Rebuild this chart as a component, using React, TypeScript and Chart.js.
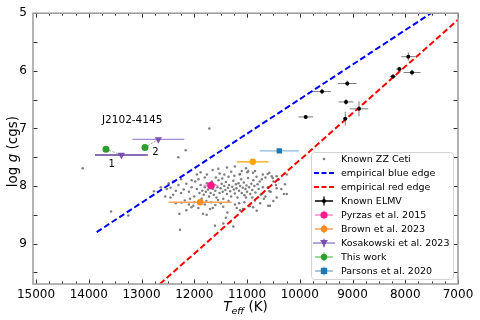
import React, { useEffect, useRef } from "react";
import { Chart, registerables } from "chart.js";

Chart.register(...registerables);

// ---------------- data ----------------
// Known ZZ Ceti stars: [Teff (K), log g]
const zzCeti: [number, number][] = [
  [14115, 7.69], [13578, 8.44], [13250, 8.51], [11715, 7.0], [12302, 7.5], [12162, 7.38],
  [12270, 8.76], [12763, 8.09], [12636, 8.02], [12484, 7.95],
  [11950, 8.05], [11900, 8.12], [11880, 7.98], [11850, 8.08], [11820, 8.15], [11800, 8.02],
  [11780, 8.1], [11760, 7.95], [11740, 8.06], [11720, 8.18], [11700, 8.0], [11690, 8.12],
  [11670, 7.92], [11650, 8.05], [11630, 8.15], [11610, 7.98], [11600, 8.08], [11580, 8.2],
  [11560, 8.02], [11540, 7.9], [11520, 8.12], [11500, 8.04], [11480, 7.96], [11460, 8.1],
  [11450, 8.22], [11430, 8.0], [11410, 8.07], [11400, 7.93], [11380, 8.14], [11360, 8.03],
  [11340, 7.98], [11320, 8.09], [11300, 8.18], [11280, 8.01], [11260, 7.91], [11250, 8.06],
  [11230, 8.13], [11210, 7.97], [11200, 8.04], [11180, 8.2], [11160, 7.95], [11150, 8.08],
  [11130, 8.0], [11110, 7.88], [11100, 8.12], [11080, 8.03], [11060, 7.94], [11050, 8.16],
  [11030, 8.05], [11010, 7.99], [11000, 8.1], [10980, 7.86], [10960, 8.02], [10940, 8.14],
  [10920, 7.96], [10900, 8.07], [10880, 7.9], [10860, 8.0], [10840, 8.11], [10820, 7.84],
  [10800, 7.97], [10780, 8.05], [10760, 7.92], [10740, 8.15], [10720, 7.88], [10700, 8.02],
  [12050, 8.02], [12100, 8.1], [12150, 7.96], [12000, 8.18], [12080, 8.22], [12200, 8.06],
  [12250, 8.12], [12300, 7.98], [12350, 8.08], [12400, 8.15], [12450, 8.03], [12180, 8.25],
  [11980, 7.92], [11920, 7.88], [11860, 8.22], [11770, 8.26], [11680, 8.28], [11590, 7.85],
  [11470, 7.87], [11350, 7.84], [11240, 7.82], [11140, 7.8],
  [11650, 7.72], [11544, 7.7], [11520, 7.78], [11430, 7.8], [11300, 7.75], [11133, 7.79],
  [11100, 7.74], [11019, 7.69], [10975, 7.74], [10886, 7.77], [10994, 7.76], [10848, 7.74],
  [10608, 7.79], [10577, 7.77], [10532, 7.83], [10247, 7.8], [10650, 7.85], [10500, 7.92],
  [10450, 7.98], [10400, 7.88], [10350, 8.05], [10280, 7.97], [10437, 8.04], [10300, 8.14],
  [10600, 8.02], [10550, 8.1], [10650, 8.18], [10700, 7.8], [11800, 7.85], [11950, 7.8],
  [11760, 7.8], [11880, 7.76], [11380, 7.68], [11230, 7.66], [12050, 7.9], [12250, 7.88],
  [12400, 7.92], [12520, 8.05], [12450, 8.2], [12550, 8.18],
  [10513, 7.86], [10437, 7.83], [10406, 7.89], [10608, 8.03], [10577, 8.09], [10437, 8.2],
  [10564, 8.34], [10247, 8.14],
  [12283, 8.48], [12241, 8.29], [12053, 8.37], [12018, 8.34], [11922, 8.38], [11766, 8.5],
  [11701, 8.4], [11373, 8.46], [11133, 8.42], [11195, 8.38], [11227, 8.32], [11449, 8.65],
  [11322, 8.63], [11260, 8.7], [11607, 8.69], [11834, 8.48], [12350, 8.3], [12150, 8.42],
  [11600, 8.33], [11500, 8.3], [11450, 8.36], [11050, 8.28], [10950, 8.35], [10850, 8.25],
  [10750, 8.3], [10596, 8.34], [10816, 8.43], [10886, 8.37], [11076, 8.4], [11019, 8.2],
  [10680, 8.22], [10500, 8.26], [11900, 8.3], [11650, 8.38], [11550, 8.24], [11350, 8.26],
  [11150, 8.3], [10900, 8.2], [11800, 8.32], [12000, 8.28], [12100, 8.32], [11400, 8.55],
];

const blueEdgeTeff = [13850, 7510];
const blueEdgeLogg = [8.8, 5.0];
const redEdgeTeff = [12650, 7000];
const redEdgeLogg = [9.7, 5.115];

const elmvTeff = [7942, 8113, 8232, 7872, 9099, 9578, 9123, 8877, 9137, 9887];
const elmvLogg = [5.755, 5.97, 6.1, 6.03, 6.22, 6.36, 6.54, 6.66, 6.83, 6.8];
const elmvTeffErr = [130, 60, 60, 160, 175, 170, 140, 175, 35, 140];
const elmvLoggErr = [0.07, 0.04, 0.04, 0.05, 0.05, 0.05, 0.05, 0.13, 0.12, 0.03];

const pyrzasTeff = [11683];
const pyrzasLogg = [7.99];
const pyrzasTeffErr = [140];
const pyrzasLoggErr = [0.05];

const brownTeff = [10892, 11887];
const brownLogg = [7.58, 8.28];
const brownTeffErr = [300, 597];
const brownLoggErr = [0.03, 0.03];

const kosTeff = [13381, 12681];
const kosLogg = [7.46, 7.19];
const kosTeffErr = [500, 493];
const kosLoggErr = [0.03, 0.03];

const thisTeff = [13673, 12934];
const thisLogg = [7.36, 7.33];

const parsonsTeff = [10388];
const parsonsLogg = [7.39];
const parsonsTeffErr = [370];
const parsonsLoggErr = [0.03];

const legendLabels = [
  "Known ZZ Ceti",
  "empirical blue edge",
  "empirical red edge",
  "Known ELMV",
  "Pyrzas et al. 2015",
  "Brown et al. 2023",
  "Kosakowski et al. 2023",
  "This work",
  "Parsons et al. 2020",
];

const xTickValues = [15000, 14000, 13000, 12000, 11000, 10000, 9000, 8000, 7000];
const yTickValues = [5, 6, 7, 8, 9];

// annotation text (data coordinates)
const annotations = [
  { text: "J2102-4145", teff: 13749, logg: 6.86, align: "left" },
  { text: "1", teff: 13565, logg: 7.62, align: "center" },
  { text: "2", teff: 12738, logg: 7.42, align: "center" },
];

// ---------------- styles ----------------
const FONT = "'DejaVu Sans', 'Liberation Sans', sans-serif";
const C_PINK = "#ff1a8c";
const C_PINK_BAR = "#ff8cc6";
const C_ORANGE = "#ff8c1a";
const C_ORANGE_BAR = "#ffa45c";
const C_GOLD = "#ffa500";
const C_PURPLE = "#7a4fb0";
const C_PURPLE_DARK = "#6a3d9a";
const C_PURPLE_LIGHT = "#a58bd6";
const C_GREEN = "#2ca02c";
const C_BLUE = "#1f77b4";
const C_BLUE_BAR = "#8ab8dc";

const pts = (xs: number[], ys: number[]) => xs.map((x, i) => ({ x, y: ys[i] }));

function errBar(ctx: CanvasRenderingContext2D, chart: any, T: number, g: number, dT: number, dg: number, color: string, lw: number) {
  const xs = chart.scales.x, ys = chart.scales.y;
  const x = xs.getPixelForValue(T), y = ys.getPixelForValue(g);
  const x1 = xs.getPixelForValue(T - dT), x2 = xs.getPixelForValue(T + dT);
  const y1 = ys.getPixelForValue(g - dg), y2 = ys.getPixelForValue(g + dg);
  ctx.strokeStyle = color;
  ctx.lineWidth = lw;
  ctx.setLineDash([]);
  ctx.beginPath();
  ctx.moveTo(x1, y); ctx.lineTo(x2, y);
  ctx.moveTo(x, y1); ctx.lineTo(x, y2);
  ctx.stroke();
}

function drawMarker(ctx: CanvasRenderingContext2D, kind: string, x: number, y: number, r: number, color: string) {
  ctx.fillStyle = color;
  ctx.beginPath();
  if (kind === "circle") {
    ctx.arc(x, y, r, 0, Math.PI * 2);
  } else if (kind === "square") {
    ctx.rect(x - r, y - r, 2 * r, 2 * r);
  } else if (kind === "tridown") {
    ctx.moveTo(x - r, y - r * 0.8);
    ctx.lineTo(x + r, y - r * 0.8);
    ctx.lineTo(x, y + r);
    ctx.closePath();
  }
  ctx.fill();
}

const overlayPlugin = {
  id: "overlay",
  afterDatasetDraw(chart: any, args: any) {
    if (args.index !== 0) return;
    const ctx: CanvasRenderingContext2D = chart.ctx;
    const ca = chart.chartArea;
    ctx.save();
    ctx.beginPath();
    ctx.rect(ca.left, ca.top, ca.right - ca.left, ca.bottom - ca.top);
    ctx.clip();
    // ELMV error bars
    elmvTeff.forEach((T, i) => errBar(ctx, chart, T, elmvLogg[i], elmvTeffErr[i], elmvLoggErr[i], "#7a7a7a", 1));
    pyrzasTeff.forEach((T, i) => errBar(ctx, chart, T, pyrzasLogg[i], pyrzasTeffErr[i], pyrzasLoggErr[i], C_PINK_BAR, 1.6));
    const brownBars = [C_GOLD, C_ORANGE_BAR];
    brownTeff.forEach((T, i) => errBar(ctx, chart, T, brownLogg[i], brownTeffErr[i], brownLoggErr[i], brownBars[i], 1.4));
    const kosBars = [C_PURPLE_DARK, C_PURPLE_LIGHT];
    kosTeff.forEach((T, i) => errBar(ctx, chart, T, kosLogg[i], kosTeffErr[i], kosLoggErr[i], kosBars[i], 1.4));
    parsonsTeff.forEach((T, i) => errBar(ctx, chart, T, parsonsLogg[i], parsonsTeffErr[i], parsonsLoggErr[i], C_BLUE_BAR, 1.4));
    // connectors between this work and Kosakowski
    const xs = chart.scales.x, ys = chart.scales.y;
    ctx.strokeStyle = "#8a8a8a";
    ctx.lineWidth = 0.8;
    ctx.setLineDash([2, 1.5]);
    thisTeff.forEach((T, i) => {
      ctx.beginPath();
      ctx.moveTo(xs.getPixelForValue(T), ys.getPixelForValue(thisLogg[i]));
      ctx.lineTo(xs.getPixelForValue(kosTeff[i]), ys.getPixelForValue(kosLogg[i]));
      ctx.stroke();
    });
    ctx.restore();
  },
  afterDraw(chart: any) {
    const ctx: CanvasRenderingContext2D = chart.ctx;
    const ca = chart.chartArea;
    const xs = chart.scales.x, ys = chart.scales.y;
    ctx.save();
    ctx.setLineDash([]);
    // ticks (inward, all sides)
    ctx.strokeStyle = "#333";
    ctx.lineWidth = 1;
    ctx.beginPath();
    for (let T = 7000; T <= 15000; T += 250) {
      const x = Math.round(xs.getPixelForValue(T)) + 0.5;
      const len = T % 1000 === 0 ? 4.5 : 2.5;
      ctx.moveTo(x, ca.bottom); ctx.lineTo(x, ca.bottom - len);
      ctx.moveTo(x, ca.top); ctx.lineTo(x, ca.top + len);
    }
    for (let g = 5; g <= 9.6; g += 0.5) {
      const y = Math.round(ys.getPixelForValue(g)) + 0.5;
      ctx.moveTo(ca.left, y); ctx.lineTo(ca.left + 4.5, y);
      ctx.moveTo(ca.right, y); ctx.lineTo(ca.right - 4.5, y);
    }
    ctx.stroke();
    // frame
    ctx.strokeStyle = "#9a9a9a";
    ctx.lineWidth = 1.5;
    ctx.strokeRect(ca.left, ca.top, ca.right - ca.left, ca.bottom - ca.top);

    // annotations
    ctx.fillStyle = "#000";
    ctx.textBaseline = "middle";
    annotations.forEach((a, i) => {
      ctx.font = `${i === 0 ? 10.5 : 10}px ${FONT}`;
      ctx.textAlign = a.align as CanvasTextAlign;
      ctx.fillText(a.text, xs.getPixelForValue(a.teff), ys.getPixelForValue(a.logg));
    });

    // x axis title: T_eff (K)
    const xc = (ca.left + ca.right) / 2;
    const yb = 306;
    const fMain = `italic 13.5px ${FONT}`;
    const fSub = `italic 9.5px ${FONT}`;
    const fNorm = `13.5px ${FONT}`;
    ctx.font = fMain; const wT = ctx.measureText("T").width;
    ctx.font = fSub; const wSub = ctx.measureText("eff").width;
    ctx.font = fNorm; const wK = ctx.measureText(" (K)").width;
    let x0 = xc - (wT + wSub + wK) / 2;
    ctx.textAlign = "left";
    ctx.textBaseline = "alphabetic";
    ctx.font = fMain; ctx.fillText("T", x0, yb + 5); x0 += wT;
    ctx.font = fSub; ctx.fillText("eff", x0, yb + 8); x0 += wSub;
    ctx.font = fNorm; ctx.fillText(" (K)", x0, yb + 5);

    // y axis title: log g (cgs)
    ctx.save();
    ctx.translate(13, (ca.top + ca.bottom) / 2 + 3);
    ctx.rotate(-Math.PI / 2);
    const parts: [string, string][] = [["log ", fNorm], ["g", fMain], [" (cgs)", fNorm]];
    let tw = 0;
    parts.forEach(([t, f]) => { ctx.font = f; tw += ctx.measureText(t).width; });
    let px = -tw / 2;
    ctx.textBaseline = "middle";
    parts.forEach(([t, f]) => { ctx.font = f; ctx.fillText(t, px, 0); px += ctx.measureText(t).width; });
    ctx.restore();

    // legend
    const lx = 311, ly = 152, lw = 142, lh = 127;
    ctx.fillStyle = "rgba(255,255,255,0.85)";
    ctx.strokeStyle = "#d4d4d4";
    ctx.lineWidth = 1;
    ctx.beginPath();
    (ctx as any).roundRect ? (ctx as any).roundRect(lx + 0.5, ly + 0.5, lw, lh, 3) : ctx.rect(lx + 0.5, ly + 0.5, lw, lh);
    ctx.fill();
    ctx.stroke();
    const hx = 324;
    legendLabels.forEach((label, i) => {
      const y = 159 + 14 * i;
      ctx.setLineDash([]);
      if (i === 0) {
        drawMarker(ctx, "circle", hx, y, 1.3, "#7f7f7f");
      } else if (i === 1 || i === 2) {
        ctx.strokeStyle = i === 1 ? "#0000ff" : "#ff0000";
        ctx.lineWidth = 2;
        ctx.setLineDash([5, 2.5]);
        ctx.beginPath(); ctx.moveTo(314, y); ctx.lineTo(334, y); ctx.stroke();
        ctx.setLineDash([]);
      } else {
        const specs: Record<number, [string, string, string, number, number]> = {
          3: ["circle", "#000", "#000", 2, 9],
          4: ["circle", C_PINK, C_PINK_BAR, 3.6, 9],
          5: ["circle", C_ORANGE, C_ORANGE_BAR, 3.2, 9],
          6: ["tridown", C_PURPLE, C_PURPLE_LIGHT, 3.8, 11],
          7: ["circle", C_GREEN, "#7fcf7f", 3.2, 9],
          8: ["square", C_BLUE, C_BLUE_BAR, 3.2, 9],
        };
        const [kind, mc, bc, r, hw] = specs[i];
        ctx.strokeStyle = bc;
        ctx.lineWidth = i === 6 ? 1.6 : 1.3;
        ctx.beginPath();
        ctx.moveTo(hx - hw, y); ctx.lineTo(hx + hw, y);
        ctx.moveTo(hx, y - 4.5); ctx.lineTo(hx, y + 4.5);
        ctx.stroke();
        drawMarker(ctx, kind, hx, y, r, mc);
      }
      ctx.fillStyle = "#000";
      ctx.font = `9.5px ${FONT}`;
      ctx.textAlign = "left";
      ctx.textBaseline = "middle";
      ctx.fillText(label, 341, y + 0.5);
    });
    ctx.restore();
  },
};

export default function App() {
  const ref = useRef<HTMLCanvasElement>(null);
  useEffect(() => {
    document.body.style.margin = "0";
    const canvas = ref.current!;
    const chart = new Chart(canvas, {
      type: "scatter",
      data: {
        datasets: [
          {
            label: legendLabels[0],
            data: zzCeti.map(([x, y]) => ({ x, y })),
            pointRadius: 1.25,
            pointBackgroundColor: "#7f7f7f",
            pointBorderWidth: 0,
            order: 10,
          },
          {
            label: legendLabels[1],
            data: pts(blueEdgeTeff, blueEdgeLogg),
            showLine: true,
            borderColor: "#0000ff",
            borderWidth: 2,
            borderDash: [6, 3],
            pointRadius: 0,
            order: 9,
          },
          {
            label: legendLabels[2],
            data: pts(redEdgeTeff, redEdgeLogg),
            showLine: true,
            borderColor: "#ff0000",
            borderWidth: 2,
            borderDash: [6, 3],
            pointRadius: 0,
            order: 8,
          },
          {
            label: legendLabels[3],
            data: pts(elmvTeff, elmvLogg),
            pointRadius: 2,
            pointBackgroundColor: "#000",
            pointBorderWidth: 0,
            order: 7,
          },
          {
            label: legendLabels[4],
            data: pts(pyrzasTeff, pyrzasLogg),
            pointRadius: 3.8,
            pointBackgroundColor: C_PINK,
            pointBorderWidth: 0,
            order: 6,
          },
          {
            label: legendLabels[5],
            data: pts(brownTeff, brownLogg),
            pointRadius: 3.3,
            pointBackgroundColor: [C_GOLD, C_ORANGE],
            pointBorderWidth: 0,
            order: 5,
          },
          {
            label: legendLabels[6],
            data: pts(kosTeff, kosLogg),
            pointStyle: "triangle",
            rotation: 180,
            pointRadius: 4.2,
            pointBackgroundColor: C_PURPLE,
            pointBorderWidth: 0,
            order: 4,
          },
          {
            label: legendLabels[7],
            data: pts(thisTeff, thisLogg),
            pointRadius: 3.5,
            pointBackgroundColor: C_GREEN,
            pointBorderWidth: 0,
            order: 3,
          },
          {
            label: legendLabels[8],
            data: pts(parsonsTeff, parsonsLogg),
            pointStyle: "rect",
            pointRadius: 3.8,
            pointBackgroundColor: C_BLUE,
            pointBorderWidth: 0,
            order: 2,
          },
        ],
      },
      options: {
        animation: false,
        responsive: false,
        events: [],
        layout: { padding: { top: 10, right: 22, left: 0, bottom: 0 } },
        plugins: { legend: { display: false }, tooltip: { enabled: false } },
        scales: {
          x: {
            type: "linear",
            reverse: true,
            min: 7000,
            max: 15057,
            grid: { display: false, drawTicks: false },
            border: { display: false },
            afterBuildTicks: (s: any) => { s.ticks = xTickValues.map((v) => ({ value: v })); },
            ticks: {
              autoSkip: false,
              maxRotation: 0,
              padding: 4,
              color: "#000",
              font: { size: 12, family: FONT },
              callback: (v: any) => String(v),
            },
            afterFit: (s: any) => { s.height = 36; },
          },
          y: {
            type: "linear",
            reverse: true,
            min: 5,
            max: 9.7,
            grid: { display: false, drawTicks: false },
            border: { display: false },
            afterBuildTicks: (s: any) => { s.ticks = yTickValues.map((v) => ({ value: v })); },
            ticks: {
              autoSkip: false,
              padding: 6,
              color: "#000",
              font: { size: 12, family: FONT },
              callback: (v: any) => String(v),
            },
            afterFit: (s: any) => { s.width = 33; },
          },
        },
      } as any,
      plugins: [overlayPlugin],
    });
    return () => chart.destroy();
  }, []);
  return (
    <div style={{ width: 480, height: 320 }}>
      <canvas ref={ref} width={480} height={320} style={{ display: "block" }} />
    </div>
  );
}
